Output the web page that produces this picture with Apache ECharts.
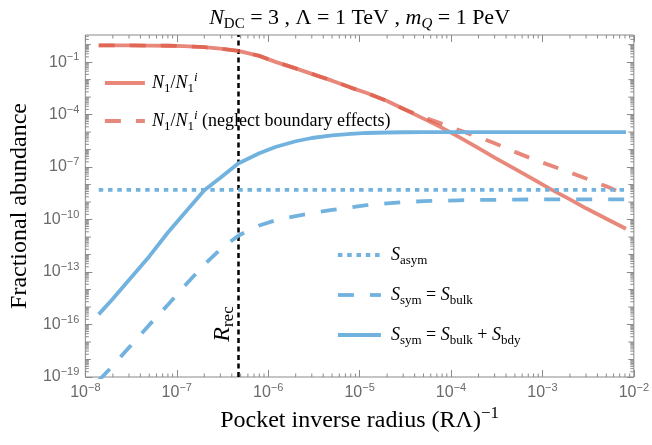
<!DOCTYPE html>
<html><head><meta charset="utf-8">
<script src="https://cdn.jsdelivr.net/npm/echarts@6/dist/echarts.min.js"></script>
<style>html,body{margin:0;padding:0;background:#fff}#c{width:652px;height:445px}</style>
</head><body><div id="c"></div>
<script>
// ---------------- data ----------------
const xValues = [1.4e-8, 2e-8, 3e-8, 5e-8, 8e-8, 1.2e-7, 2e-7, 3e-7, 4.7e-7, 8e-7,
  1.2e-6, 2e-6, 3e-6, 5e-6, 8e-6, 1.2e-5, 2e-5, 3e-5, 5e-5, 8e-5,
  1.2e-4, 2e-4, 3e-4, 5e-4, 8e-4, 1.2e-3, 2e-3, 3e-3, 5e-3, 8.2e-3];
const n1Full = [0.9, 0.9, 0.9, 0.88, 0.86, 0.82, 0.71, 0.59, 0.44, 0.228,
  0.103, 0.0437, 0.0214, 0.0087, 3.5e-3, 1.7e-3, 6.0e-4, 2.14e-4, 5.9e-5, 1.76e-5,
  5.5e-6, 1.2e-6, 3.5e-7, 7.9e-8, 2.0e-8, 5.9e-9, 1.43e-9, 4.4e-10, 1.12e-10, 3.0e-11];
const n1Neglect = [0.9, 0.9, 0.9, 0.88, 0.86, 0.82, 0.71, 0.59, 0.44, 0.228,
  0.103, 0.0437, 0.0214, 0.0087, 3.5e-3, 1.7e-3, 6.0e-4, 2.14e-4, 7.1e-5, 2.95e-5,
  1.35e-5, 5.2e-6, 2.3e-6, 7.4e-7, 2.75e-7, 1.29e-7, 4.9e-8, 2.24e-8, 7.9e-9, 2.6e-9];
const sBulkBdy = [3.8e-16, 3.0e-15, 3.55e-14, 7.8e-13, 1.82e-11, 2.14e-10, 4.7e-9, 2.45e-8, 1.62e-7, 6.2e-7,
  1.41e-6, 3.0e-6, 4.6e-6, 6.5e-6, 7.9e-6, 8.9e-6, 9.5e-6, 9.8e-6, 1.0e-5, 1.0e-5,
  1.0e-5, 1.0e-5, 1.0e-5, 1.0e-5, 1.0e-5, 1.0e-5, 1.0e-5, 1.0e-5, 1.0e-5, 1.0e-5];
const sBulk = [6.3e-20, 4.4e-19, 4.8e-18, 9.5e-17, 1.35e-15, 1.48e-14, 2.63e-13, 2.0e-12, 1.2e-11, 4.6e-11,
  9.1e-11, 1.58e-10, 2.34e-10, 3.55e-10, 5.0e-10, 6.6e-10, 8.5e-10, 1.0e-9, 1.12e-9, 1.2e-9,
  1.26e-9, 1.32e-9, 1.35e-9, 1.38e-9, 1.41e-9, 1.41e-9, 1.41e-9, 1.41e-9, 1.41e-9, 1.41e-9];
const sAsymX = [1.4e-8, 8.2e-3];
const sAsym = [5.0e-9, 5.0e-9];
const rRec = 4.7e-7;

// axis ranges and tick values
const X_MIN = 1e-8, X_MAX = 1e-2;
const Y_MIN = 1e-19, Y_MAX = 3.55;
const xMajorTicks = [1e-8, 1e-7, 1e-6, 1e-5, 1e-4, 1e-3, 1e-2];
const yMajorTicks = [1e-19, 1e-16, 1e-13, 1e-10, 1e-7, 1e-4, 1e-1];
const yDecadeTicks = [1e-18, 1e-17, 1e-15, 1e-14, 1e-12, 1e-11, 1e-9, 1e-8, 1e-6, 1e-5, 1e-3, 1e-2, 1];
const minorMantissas = [2, 3, 4, 5, 6, 7, 8, 9];

// ---------------- styles ----------------
const SERIF = 'Liberation Serif';
const SANS = 'Liberation Sans';
const LABEL_GRAY = '#6a6a6a';
const TICK_GRAY = '#8a8a8a';
const RED = 'rgba(222,90,70,0.72)';
const BLUE = '#72b2de';

function mathRich(base) {
  const sub = Math.round(base * 0.7);
  return {
    it: {fontFamily: SERIF, fontStyle: 'italic', fontSize: base, lineHeight: base + 6, color: '#000'},
    rm: {fontFamily: SERIF, fontSize: base, lineHeight: base + 6, color: '#000'},
    sub: {fontFamily: SERIF, fontSize: sub, lineHeight: sub + 1, verticalAlign: 'bottom', color: '#000'},
    subit: {fontFamily: SERIF, fontStyle: 'italic', fontSize: sub, lineHeight: sub + 1, verticalAlign: 'bottom', color: '#000'},
    sup: {fontFamily: SERIF, fontSize: sub, lineHeight: sub + 1, verticalAlign: 'top', color: '#000'},
    supit: {fontFamily: SERIF, fontStyle: 'italic', fontSize: sub, lineHeight: sub + 1, verticalAlign: 'top', color: '#000'}
  };
}
const tickRich = {
  b: {fontFamily: SANS, fontSize: 16, lineHeight: 21, color: LABEL_GRAY},
  e: {fontFamily: SANS, fontSize: 11, lineHeight: 12, verticalAlign: 'top', color: LABEL_GRAY}
};
function powLabel(v) {
  const l = Math.log10(v), e = Math.round(l);
  if (Math.abs(l - e) > 1e-6) return '';
  return '{b|10}{e|' + (e < 0 ? '\u2212' : '') + Math.abs(e) + '}';
}

const legendText = {
  'N1': '{it|N}{sub|1}{rm|/}{it|N}{sub|1}{supit|i}',
  'N1 neglect': '{it|N}{sub|1}{rm|/}{it|N}{sub|1}{supit|i}{rm| (neglect boundary effects)}',
  'S asym': '{it|S}{sub|asym}',
  'S bulk': '{it|S}{sub|sym}{rm| = }{it|S}{sub|bulk}',
  'S bulk bdy': '{it|S}{sub|sym}{rm| = }{it|S}{sub|bulk}{rm| + }{it|S}{sub|bdy}'
};

// minor tick values
const xMinorTicks = [];
for (let e = -8; e < -2; e++) minorMantissas.forEach(m => xMinorTicks.push(m * Math.pow(10, e)));
const yMinorTicks = [];
for (let e = -19; e <= 0; e++) minorMantissas.forEach(m => { const v = m * Math.pow(10, e); if (v < Y_MAX) yMinorTicks.push(v); });

function xTickRenderer(len) {
  return function (params, api) {
    const cs = params.coordSys;
    const px = api.coord([api.value(0), api.value(1)])[0];
    const st = {stroke: TICK_GRAY, lineWidth: 1};
    return {type: 'group', children: [
      {type: 'line', shape: {x1: px, y1: cs.y + cs.height, x2: px, y2: cs.y + cs.height - len}, style: st},
      {type: 'line', shape: {x1: px, y1: cs.y, x2: px, y2: cs.y + len}, style: st}
    ]};
  };
}
function yTickRenderer(len) {
  return function (params, api) {
    const cs = params.coordSys;
    const py = api.coord([api.value(0), api.value(1)])[1];
    const st = {stroke: TICK_GRAY, lineWidth: 1};
    return {type: 'group', children: [
      {type: 'line', shape: {x1: cs.x, y1: py, x2: cs.x + len, y2: py}, style: st},
      {type: 'line', shape: {x1: cs.x + cs.width, y1: py, x2: cs.x + cs.width - len, y2: py}, style: st}
    ]};
  };
}
const pairs = (xs, ys) => xs.map((x, i) => [x, ys[i]]);

const lineBase = {type: 'line', showSymbol: false, symbol: 'none', smooth: false, silent: true, z: 5};
const legendCommon = {orient: 'vertical', itemHeight: 14, selectedMode: false,
  formatter: n => legendText[n], itemStyle: {opacity: 0, borderWidth: 0},
  lineStyle: {width: 3.8}};

const option = {
  animation: false,
  backgroundColor: '#fff',
  grid: {left: 84, right: 16, top: 35, bottom: 68, show: true, borderColor: TICK_GRAY, borderWidth: 1, backgroundColor: 'transparent'},
  xAxis: [
    {type: 'log', logBase: 10, min: X_MIN, max: X_MAX, position: 'bottom',
      axisLine: {show: false}, splitLine: {show: false},
      axisTick: {show: true, inside: true, length: 7, lineStyle: {color: TICK_GRAY}, customValues: xMajorTicks},
      axisLabel: {customValues: xMajorTicks, formatter: powLabel, margin: 5, rich: tickRich},
      name: '{rm|Pocket inverse radius (R\u039B)}{sup|\u22121}', nameLocation: 'middle', nameGap: 28,
      nameTextStyle: {rich: mathRich(24)}},
    {type: 'log', logBase: 10, min: X_MIN, max: X_MAX, position: 'top',
      axisLine: {show: false}, splitLine: {show: false},
      axisTick: {show: true, inside: true, length: 7, lineStyle: {color: TICK_GRAY}, customValues: xMajorTicks},
      axisLabel: {show: false},
      name: '{it|N}{sub|DC}{rm| = 3 , \u039B = 1 TeV , }{it|m}{subit|Q}{rm| = 1 PeV}', nameLocation: 'middle', nameGap: 3,
      nameTextStyle: {rich: mathRich(22)}}
  ],
  yAxis: [
    {type: 'log', logBase: 10, min: Y_MIN, max: Y_MAX, position: 'left',
      axisLine: {show: false}, splitLine: {show: false},
      axisTick: {show: true, inside: true, length: 7, lineStyle: {color: TICK_GRAY}, customValues: yMajorTicks},
      axisLabel: {customValues: yMajorTicks, formatter: powLabel, margin: 6, rich: tickRich},
      name: 'Fractional abundance', nameLocation: 'middle', nameGap: 51,
      nameTextStyle: {fontFamily: SERIF, fontSize: 24, color: '#000'}},
    {type: 'log', logBase: 10, min: Y_MIN, max: Y_MAX, position: 'right',
      axisLine: {show: false}, splitLine: {show: false},
      axisTick: {show: true, inside: true, length: 7, lineStyle: {color: TICK_GRAY}, customValues: yMajorTicks},
      axisLabel: {show: false}}
  ],
  legend: [
    Object.assign({}, legendCommon, {data: ['N1', 'N1 neglect'], left: 98, top: 66, itemWidth: 40, itemGap: 14,
      textStyle: {rich: mathRich(18), padding: [0, 0, 0, 2]}}),
    Object.assign({}, legendCommon, {data: ['S asym', 'S bulk', 'S bulk bdy'], left: 331, top: 241, itemWidth: 43, itemGap: 19,
      textStyle: {rich: mathRich(18), padding: [0, 0, 0, 5]}})
  ],
  series: [
    Object.assign({}, lineBase, {name: 'N1', data: pairs(xValues, n1Full),
      lineStyle: {color: RED, width: 3.8, type: 'solid'}, itemStyle: {color: RED},
      markLine: {silent: true, symbol: ['none', 'none'], animation: false, label: {show: false},
        lineStyle: {color: '#000', width: 2.5, type: [5, 3.5], opacity: 1},
        data: [[{coord: [rRec, Y_MIN]}, {coord: [rRec, Y_MAX]}]]}}),
    Object.assign({}, lineBase, {name: 'N1 neglect', data: pairs(xValues, n1Neglect),
      lineStyle: {color: RED, width: 3.8, type: [16, 15]}, itemStyle: {color: RED}}),
    Object.assign({}, lineBase, {name: 'S asym', data: pairs(sAsymX, sAsym),
      lineStyle: {color: BLUE, width: 3.8, type: [4.5, 4.8]}, itemStyle: {color: BLUE}}),
    Object.assign({}, lineBase, {name: 'S bulk', data: pairs(xValues, sBulk),
      lineStyle: {color: BLUE, width: 3.8, type: [16, 16]}, itemStyle: {color: BLUE}}),
    Object.assign({}, lineBase, {name: 'S bulk bdy', data: pairs(xValues, sBulkBdy),
      lineStyle: {color: BLUE, width: 3.8, type: 'solid'}, itemStyle: {color: BLUE}}),
    {type: 'custom', name: 'xminor', silent: true, z: 1, renderItem: xTickRenderer(3.5),
      data: xMinorTicks.map(v => [v, 1])},
    {type: 'custom', name: 'ydecade', silent: true, z: 1, renderItem: yTickRenderer(5.5),
      data: yDecadeTicks.map(v => [1e-6, v])},
    {type: 'custom', name: 'yminor', silent: true, z: 1, renderItem: yTickRenderer(3.5),
      data: yMinorTicks.map(v => [1e-6, v])}
  ]
};

const chart = echarts.init(document.getElementById('c'));
chart.setOption(option);
const rx = chart.convertToPixel({xAxisIndex: 0}, rRec);
const gridBottom = 445 - 68;
chart.setOption({
  graphic: [{type: 'text', x: rx - 16, y: gridBottom - 53, rotation: Math.PI / 2, z: 10,
    style: {text: '{it|R}{sub|rec}', rich: mathRich(24), align: 'center', verticalAlign: 'middle'}}]
});
</script>
</body></html>
